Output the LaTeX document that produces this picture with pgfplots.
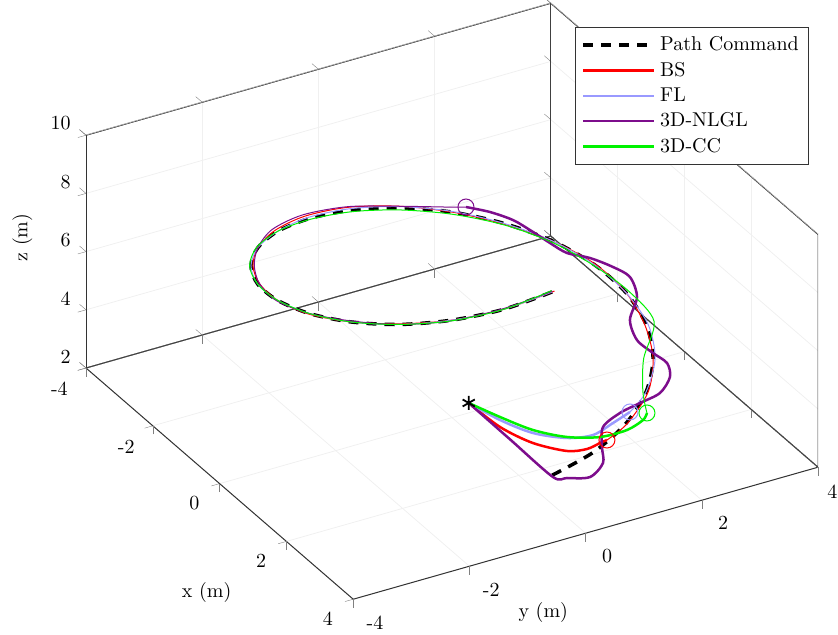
\documentclass[border=0pt]{standalone}
\usepackage{pgfplots}
\pgfplotsset{compat=1.18}
\definecolor{flblue}{rgb}{0.6,0.6,1.0}
\definecolor{nlpurple}{rgb}{0.49,0.05,0.55}
\definecolor{ccgreen}{rgb}{0,0.95,0}
\begin{document}
\begin{tikzpicture}
\begin{axis}[
  x={(16.7pt,-14.45pt)}, y={(29.05pt,8.25pt)}, z={(0pt,14.55pt)},
  xmin=-4, xmax=4, ymin=-4, ymax=4, zmin=2, zmax=10,
  xtick={-4,-2,0,2,4}, ytick={-4,-2,0,2,4}, ztick={2,4,6,8,10},
  xticklabels={{-4},{-2},{0},{2},{4}},
  yticklabels={{-4},{-2},{0},{2},{\makebox[13pt][l]{4}}},
  zticklabels={{2},{4},{6},{8},{10}},
  tick pos=left,
  tick align=outside,
  axis line style={black!80, line width=0.5pt},
  grid=major, major grid style={black!6},
  xticklabel style={xshift=-3pt, yshift=-1pt},
  yticklabel style={xshift=4pt, yshift=-1pt},
  zticklabel style={yshift=5.5pt},
  xlabel={x (m)}, ylabel={y (m)}, zlabel={z (m)},
  xlabel style={xshift=20pt, yshift=-19.5pt},
  ylabel style={xshift=-37.5pt, yshift=-4pt},
  legend cell align=left,
  legend style={at={(0.988,0.96)}, anchor=north east, draw=black!80, fill=white, row sep=0.2pt, inner xsep=3pt, inner ysep=2.5pt},
  legend image code/.code={\draw[#1] (0cm,0cm) -- (1.25cm,0cm);},
]
\coordinate (O) at (axis cs:-4,-4,2);
% background box edges
\draw[black!75, line width=0.5pt] (axis cs:-4,-4,2) -- (axis cs:-4,4,2) -- (axis cs:4,4,2) -- (axis cs:4,4,10) -- (axis cs:-4,4,10) -- (axis cs:-4,-4,10);
\draw[black!75, line width=0.5pt] (axis cs:-4,4,2) -- (axis cs:-4,4,10);
% Path command
\addplot3[black, line width=1.75pt, dash pattern=on 5pt off 4pt, smooth] coordinates {
(3,0,3) (2.898,0.776,3.26) (2.598,1.5,3.53) (2.121,2.121,3.79) (1.5,2.598,4.05) (0.776,2.898,4.31) (0,3,4.58) (-0.776,2.898,4.84) (-1.5,2.598,5.10) (-2.121,2.121,5.36) (-2.598,1.5,5.63) (-2.898,0.776,5.89) (-3,0,6.15) (-2.898,-0.776,6.41) (-2.598,-1.5,6.68) (-2.121,-2.121,6.94) (-1.5,-2.598,7.20) (-0.776,-2.898,7.46) (0,-3,7.73) (0.776,-2.898,7.99) (1.5,-2.598,8.25) (2.121,-2.121,8.51) (2.598,-1.5,8.78) (2.898,-0.776,9.04) (3,0,9.30)
};
\addlegendentry{Path Command}
% BS
\addplot3[red, line width=1.25pt, smooth] coordinates {
(0.5,0,3) (1.396,0.024,3.05) (2.095,0.189,3.1) (2.592,0.489,3.15) (2.726,0.756,3.2) (2.742,0.970,3.3) (2.753,1.084,3.35)
};
\addlegendentry{BS}
\addplot3[red, line width=0.5pt, smooth, forget plot] coordinates {
(2.753,1.084,3.35) (2.615,1.510,3.53) (2.143,2.143,3.79) (1.5,2.598,4.05) (0.771,2.878,4.31) (0,3,4.58) (-0.782,2.917,4.84) (-1.5,2.598,5.10) (-2.107,2.107,5.36) (-2.598,1.5,5.63) (-2.946,0.789,5.89) (-3.1,0,6.15) (-2.994,-0.802,6.41) (-2.641,-1.525,6.68) (-2.121,-2.121,6.94) (-1.485,-2.572,7.20) (-0.769,-2.869,7.46) (0,-3,7.73) (0.782,-2.917,7.99) (1.5,-2.598,8.25) (2.107,-2.107,8.51) (2.598,-1.5,8.78) (2.898,-0.776,9.04) (2.98,0.05,9.28)
};
% FL
\addplot3[flblue, line width=1.25pt, smooth] coordinates {
(0.5,0,3) (1.214,0.129,3.05) (1.834,0.339,3.1) (2.291,0.662,3.2) (2.482,1.0,3.3) (2.431,1.373,3.45) (2.383,1.693,3.6)
};
\addlegendentry{FL}
\addplot3[flblue, line width=0.5pt, smooth, forget plot] coordinates {
(2.383,1.693,3.6) (2.121,2.121,3.79) (1.515,2.624,4.05) (0.784,2.927,4.31) (0,3,4.58) (-0.776,2.898,4.84) (-1.5,2.598,5.10) (-2.121,2.121,5.36) (-2.615,1.51,5.63) (-2.936,0.787,5.89) (-3.05,0,6.15) (-2.936,-0.787,6.41) (-2.598,-1.5,6.68) (-2.121,-2.121,6.94) (-1.5,-2.598,7.20) (-0.776,-2.898,7.46) (0,-3,7.73) (0.776,-2.898,7.99) (1.5,-2.598,8.25) (2.121,-2.121,8.51) (2.598,-1.5,8.78) (2.898,-0.776,9.04) (3,0,9.30)
};
% 3D-NLGL
\addplot3[nlpurple, line width=1.25pt, smooth] coordinates {
(0.5,0,3) (1.775,-0.01,3.0) (3.053,-0.017,3.0) (3.182,0.150,3.0) (3.365,0.441,3.05) (3.134,0.797,3.1) (2.785,0.980,3.2) (2.386,1.227,3.35) (2.259,1.592,3.5) (2.223,1.958,3.6) (2.186,2.323,3.7) (1.957,2.626,3.85) (1.646,2.754,3.95) (1.320,2.700,4.0) (0.939,2.644,4.1) (0.479,2.787,4.25) (0.084,3.136,4.45) (-0.338,3.257,4.65) (-0.610,3.121,4.8) (-0.900,2.893,4.95) (-1.126,2.626,5.05) (-1.435,2.512,5.15) (-1.846,2.403,5.25) (-2.157,2.289,5.35) (-2.459,2.068,5.45) (-2.692,1.788,5.55)
};
\addlegendentry{3D-NLGL}
\addplot3[nlpurple, line width=0.5pt, smooth, forget plot] coordinates {
(-2.692,1.788,5.55) (-2.728,1.575,5.63) (-2.946,0.789,5.89) (-3.12,0,6.15) (-3.043,-0.815,6.41) (-2.685,-1.55,6.68) (-2.121,-2.121,6.94) (-1.475,-2.555,7.20) (-0.769,-2.869,7.46) (0,-3.02,7.73) (0.776,-2.898,7.99) (1.485,-2.572,8.25) (2.121,-2.121,8.51) (2.615,-1.51,8.78) (2.878,-0.771,9.04) (2.97,0.02,9.28)
};
% 3D-CC
\addplot3[ccgreen, line width=1.25pt, smooth] coordinates {
(0.5,0,3) (1.136,0.174,3.05) (1.756,0.384,3.1) (2.227,0.698,3.15) (2.548,1.082,3.25) (2.679,1.471,3.4) (2.613,1.786,3.5) (2.535,1.898,3.6)
};
\addlegendentry{3D-CC}
\addplot3[ccgreen, line width=0.5pt, smooth, forget plot] coordinates {
(2.535,1.898,3.6) (2.086,2.086,3.79) (1.43,2.477,4.05) (0.807,3.014,4.40) (0,3.05,4.6) (-0.776,2.898,4.80) (-1.5,2.598,5.05) (-2.121,2.121,5.31) (-2.581,1.49,5.58) (-2.869,0.769,5.85) (-2.97,0,6.13) (-2.878,-0.771,6.40) (-2.598,-1.5,6.68) (-2.135,-2.135,6.94) (-1.51,-2.615,7.20) (-0.776,-2.898,7.46) (0,-3,7.73) (0.776,-2.898,7.99) (1.5,-2.598,8.25) (2.121,-2.121,8.51) (2.615,-1.51,8.78) (2.898,-0.776,9.04) (2.98,0,9.32)
};
% switching markers
\addplot3[red, only marks, mark=o, mark size=4pt, line width=0.5pt, forget plot] coordinates {(2.753,1.084,3.35)};
\addplot3[flblue, only marks, mark=o, mark size=4pt, line width=0.5pt, forget plot] coordinates {(2.383,1.693,3.6)};
\addplot3[nlpurple, only marks, mark=o, mark size=4pt, line width=0.5pt, forget plot] coordinates {(-2.692,1.788,5.55)};
\addplot3[ccgreen, only marks, mark=o, mark size=4pt, line width=0.5pt, forget plot] coordinates {(2.535,1.898,3.6)};
% start
\addplot3[black, only marks, mark=asterisk, mark size=3.5pt, line width=0.9pt, forget plot] coordinates {(0.5,0,3)};
\end{axis}
\pgfresetboundingbox
\path ([xshift=-43pt,yshift=-133pt]O) rectangle ([xshift=376pt,yshift=184pt]O);
\end{tikzpicture}
\end{document}
